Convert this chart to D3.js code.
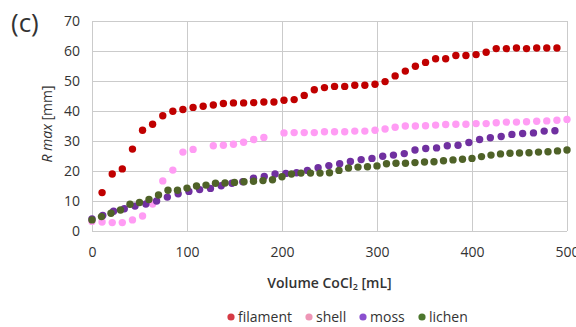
<!DOCTYPE html>
<html>
<head>
<meta charset="utf-8">
<script src="https://cdnjs.cloudflare.com/ajax/libs/d3/7.8.5/d3.min.js"></script>
<style>
  body { margin: 0; background: #fff; }
  text { font-family: "Open Sans", sans-serif; fill: #333; }
  .grid line { stroke: #cbcbcb; stroke-width: 1; }
</style>
</head>
<body>
<script>
var volShell = [0, 10.6, 21.3, 31.9, 42.6, 53.2, 63.8, 74.5, 85.1, 95.7, 106.4, 117.0, 127.7, 138.3, 148.9, 159.6,
  170.2, 180.9, 191.5, 202.1, 212.8, 223.4, 234.0, 244.7, 255.3, 266.0, 276.6, 287.2, 297.9, 308.5, 319.1, 329.8,
  340.4, 351.1, 361.7, 372.3, 383.0, 393.6, 404.3, 414.9, 425.5, 436.2, 446.8, 457.4, 468.1, 478.7, 489.4, 500.0];
var volMoss = [0, 11.3, 22.7, 34.0, 45.3, 56.7, 68.0, 79.3, 90.7, 102.0, 113.3, 124.7, 136.0, 147.3, 158.7, 170.0,
  181.3, 192.7, 204.0, 215.3, 226.7, 238.0, 249.3, 260.7, 272.0, 283.3, 294.7, 306.0, 317.3, 328.7, 340.0, 351.3,
  362.7, 374.0, 385.3, 396.7, 408.0, 419.3, 430.7, 442.0, 453.3, 464.7, 476.0, 487.3];
var volLichen = [0, 10, 20, 30, 40, 50, 60, 70, 80, 90, 100, 110, 120, 130, 140, 150, 160, 170, 180, 190, 200,
  210, 220, 230, 240, 250, 260, 270, 280, 290, 300, 310, 320, 330, 340, 350, 360, 370, 380, 390, 400,
  410, 420, 430, 440, 450, 460, 470, 480, 490, 500];

// R max [mm]; null = no point drawn
var filament = [null, 12.8, 19.0, 20.7, 27.3, 33.6, 35.6, 38.4, 39.9, 40.5, 41.2, 41.6, 42.0, 42.5, 42.7, 42.7,
  42.8, 43.0, 43.0, 43.6, 43.8, 45.2, 47.1, 47.8, 48.2, 48.2, 48.6, 48.6, 48.9, 49.8, 51.7, 53.3,
  54.9, 56.2, 57.4, 57.4, 58.5, 58.5, 58.8, 59.6, 60.8, 60.8, 61.0, 60.8, 61.0, 61.0, 61.0];
var shell = [3.2, 3.0, 2.8, 2.8, 3.7, 5.0, 9.0, 16.7, 20.3, 26.3, 27.2, null, 28.4, 28.6, 28.9, 29.6,
  30.5, 31.2, null, 32.7, 32.8, 32.8, 32.8, 33.1, 33.1, 33.1, 33.3, 33.3, 33.6, 34.0, 34.6, 35.0,
  35.0, 35.1, 35.3, 35.5, 35.6, 35.6, 35.8, 35.8, 36.1, 36.3, 36.3, 36.4, 36.6, 36.7, 36.9, 37.2];
var moss = [4.0, 5.2, 6.6, 7.4, 8.3, 9.0, 10.0, 11.3, 12.4, 13.2, 13.8, 14.2, 15.1, 15.9, 16.4, 17.6,
  18.2, 19.0, 19.2, 19.4, 20.2, 21.1, 21.8, 22.4, 23.2, 23.8, 24.2, 24.9, 25.3, 25.8, 27.0, 27.5,
  27.7, 28.4, 28.6, 29.5, 30.5, 31.1, 31.5, 32.2, 32.5, 32.7, 33.3, 33.4];
var lichen = [3.7, 4.8, 5.9, 7.0, 8.9, 9.5, 10.5, 12.0, 13.6, 13.6, 14.3, 15.0, 15.3, 15.9, 16.0, 16.2,
  16.4, 16.6, 16.8, 17.1, 18.1, 19.0, 19.3, 19.3, 19.3, 19.4, 20.2, 21.0, 21.3, 21.4, 21.7, 22.4,
  22.6, 22.6, 22.8, 23.0, 23.1, 23.4, 23.7, 23.9, 24.2, 24.8, 25.3, 25.7, 25.9, 26.0, 26.1, 26.3,
  26.4, 26.7, 27.0];

var seriesNames = ["filament", "shell", "moss", "lichen"];
var xTicks = [0, 100, 200, 300, 400, 500];
var yTicks = [0, 10, 20, 30, 40, 50, 60, 70];

var series = [
  { name: "filament", vols: volShell, vals: filament, color: "#c00000", key: "#d63a45" },
  { name: "shell", vols: volShell, vals: shell, color: "#ff9cf4", key: "#ee96b6" },
  { name: "moss", vols: volMoss, vals: moss, color: "#7030a0", key: "#8a4fcf" },
  { name: "lichen", vols: volLichen, vals: lichen, color: "#4f6228", key: "#4c772d" }
];

var width = 576,
  height = 327,
  plotLeft = 92,
  plotRight = 567,
  plotTop = 21,
  plotBottom = 231

var svg = d3.select("body").append("svg")
  .attr("width", width)
  .attr("height", height)

var x = d3.scaleLinear().domain([0, 500]).range([plotLeft, plotRight]);
var y = d3.scaleLinear().domain([0, 70]).range([plotBottom, plotTop]);

// grid + tick labels
svg.append("g")
  .attr("class", "grid")
  .attr("transform", "translate(0," + plotBottom + ")")
  .call(d3.axisBottom(x).tickValues(xTicks).tickSizeInner(-(plotBottom - plotTop)).tickSizeOuter(0).tickPadding(16))
  .call(function (g) { g.select(".domain").remove(); })
  .selectAll("text").style("font-size", "14px").attr("fill", "#333");

svg.append("g")
  .attr("class", "grid")
  .attr("transform", "translate(" + plotLeft + ",0)")
  .call(d3.axisLeft(y).tickValues(yTicks).tickSizeInner(-(plotRight - plotLeft)).tickSizeOuter(0).tickPadding(12))
  .call(function (g) { g.select(".domain").remove(); })
  .selectAll("text").style("font-size", "14px").attr("fill", "#333");

// points, drawn in series order so lichen sits on top
series.forEach(function (s) {
  var pts = s.vals.map(function (v, i) { return [s.vols[i], v]; })
    .filter(function (d) { return d[1] != null; });
  svg.append("g").selectAll("circle")
    .data(pts)
    .enter().append("circle")
    .attr("cx", function (d) { return x(d[0]); })
    .attr("cy", function (d) { return y(d[1]); })
    .attr("r", 3.7)
    .attr("fill", s.color);
});

// axis titles
var xt = svg.append("text")
  .attr("x", (plotLeft + plotRight) / 2)
  .attr("y", 288)
  .attr("text-anchor", "middle")
  .style("font-size", "14px")
  .style("font-weight", "600");
xt.append("tspan").text("Volume CoCl");
xt.append("tspan").text("2").style("font-size", "9px").attr("dy", 2);
xt.append("tspan").text(" [mL]").attr("dy", -2);

var yt = svg.append("text")
  .attr("transform", "translate(52,124) rotate(-90)")
  .attr("text-anchor", "middle")
  .style("font-size", "14px");
yt.append("tspan").text("R max").style("font-style", "italic");
yt.append("tspan").text(" [mm]");

svg.append("text")
  .attr("x", 11)
  .attr("y", 32)
  .style("font-size", "26px")
  .text("(c)");

// legend
var legendX = [231, 309, 363, 422];
var legend = svg.append("g").selectAll("g")
  .data(series)
  .enter().append("g")
  .attr("transform", function (d, i) { return "translate(" + legendX[i] + ",317)"; });
legend.append("circle").attr("r", 3.6).attr("fill", function (d) { return d.key; });
legend.append("text")
  .attr("x", 7)
  .attr("dy", "0.35em")
  .style("font-size", "14px")
  .text(function (d, i) { return seriesNames[i]; });
</script>
</body>
</html>
